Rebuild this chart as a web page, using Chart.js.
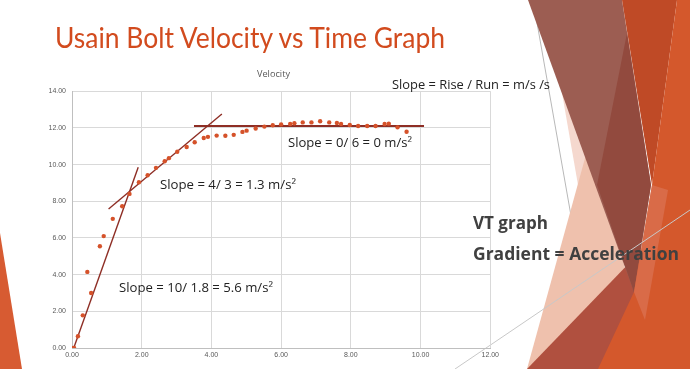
<!DOCTYPE html>
<html>
<head>
<meta charset="utf-8">
<script src="https://cdn.jsdelivr.net/npm/chart.js@4.4.1/dist/chart.umd.min.js"></script>
<style>
  html, body { margin: 0; padding: 0; background: #fff; }
  #slide { position: relative; width: 690px; height: 369px; overflow: hidden; background: #fff; }
  #deco, #labels { position: absolute; left: 0; top: 0; }
  #velocityChart { position: absolute; left: 40px; top: 81px; }
</style>
</head>
<body>
<div id="slide">
  <svg id="deco" width="690" height="369">
    <!-- left edge triangle -->
    <polygon points="0,233 22,369 0,369" fill="#D75B32"/>
    <!-- thin theme lines -->
    <line x1="533" y1="0" x2="598" y2="369" stroke="#b8b8b8" stroke-width="1"/>
    <!-- right side facets -->
    <polygon points="562,93 578,185 600,185 585,110" fill="#F5D8CE"/>
    <polygon points="527,369 590,140 600,160 630,290 600,369" fill="#EFC1AD"/>
    <polygon points="527,369 690,200 690,369" fill="#B0503F"/>
    <polygon points="528,0 622,0 651,185 634,292" fill="#9C5D52"/>
    <polygon points="627,33 651,185 634,292 597,185" fill="#924A3E"/>
    <polygon points="622,0 677,0 652,185" fill="#BF4A26"/>
    <polygon points="677,0 690,0 690,369 598,369 634,292 652,185" fill="#D4582C"/>
    <polygon points="652,185 634,292 645,320 668,190" fill="#D97050" opacity="0.8"/>
    <line x1="455" y1="369" x2="690" y2="210" stroke="#c8c8c8" stroke-width="1"/>
  </svg>
  <canvas id="velocityChart" width="462" height="285"></canvas>
  <svg id="labels" width="690" height="369">
    <text x="55" y="48" textLength="390" lengthAdjust="spacingAndGlyphs" font-family="Lato, 'Open Sans', sans-serif" font-size="28" fill="#D24B1E">Usain Bolt Velocity vs Time Graph</text>
    <text x="257" y="77" textLength="33" lengthAdjust="spacingAndGlyphs" font-family="'Open Sans', sans-serif" font-size="9" fill="#595959">Velocity</text>
    <text x="392" y="89" textLength="158" lengthAdjust="spacingAndGlyphs" font-family="'Open Sans', sans-serif" font-size="12" fill="#222">Slope = Rise / Run = m/s /s</text>
    <text x="288" y="147" textLength="124" lengthAdjust="spacingAndGlyphs" font-family="'Open Sans', sans-serif" font-size="12" fill="#222">Slope = 0/ 6 = 0 m/s²</text>
    <text x="160" y="189" textLength="136" lengthAdjust="spacingAndGlyphs" font-family="'Open Sans', sans-serif" font-size="12" fill="#222">Slope = 4/ 3 = 1.3 m/s²</text>
    <text x="119" y="292" textLength="154" lengthAdjust="spacingAndGlyphs" font-family="'Open Sans', sans-serif" font-size="12" fill="#222">Slope = 10/ 1.8 = 5.6 m/s²</text>
    <text x="473" y="229" textLength="75" lengthAdjust="spacingAndGlyphs" font-family="'Open Sans', sans-serif" font-weight="bold" font-size="18" fill="#404040">VT graph</text>
    <text x="473" y="260" textLength="206" lengthAdjust="spacingAndGlyphs" font-family="'Open Sans', sans-serif" font-weight="bold" font-size="18" fill="#404040">Gradient = Acceleration</text>
  </svg>
</div>
<script>
// measured run: time (s) and velocity (m/s)
const times = [0.00, 0.06, 0.17, 0.31, 0.44, 0.55, 0.80, 0.91, 1.17, 1.44, 1.65, 1.92, 2.17, 2.41, 2.66, 2.78,
    3.02, 3.29, 3.52, 3.78, 3.90, 4.15, 4.40, 4.64, 4.89, 5.01, 5.27, 5.52, 5.76, 6.00, 6.26, 6.38,
    6.62, 6.87, 7.12, 7.38, 7.60, 7.72, 7.97, 8.21, 8.47, 8.71, 8.97, 9.09, 9.34, 9.60];
const velocities = [0.00, 0.00, 0.64, 1.78, 4.15, 3.00, 5.55, 6.10, 7.04, 7.73, 8.40, 9.04, 9.42, 9.82, 10.18, 10.35,
    10.70, 10.96, 11.22, 11.45, 11.51, 11.58, 11.57, 11.62, 11.78, 11.85, 11.97, 12.07, 12.14, 12.19, 12.21, 12.25,
    12.30, 12.30, 12.36, 12.30, 12.27, 12.21, 12.16, 12.10, 12.10, 12.10, 12.21, 12.23, 12.03, 11.79];

// hand drawn tangent lines (end points)
const tangentStartX = [0.05, 1.90];
const tangentStartY = [0.00, 9.85];
const tangentMidX = [1.05, 4.30];
const tangentMidY = [7.58, 12.76];
const tangentFlatX = [3.50, 10.10];
const tangentFlatY = [12.10, 12.10];

const xTicks = [0, 2, 4, 6, 8, 10, 12];
const yTicks = [0, 2, 4, 6, 8, 10, 12, 14];

function toPoints(xs, ys) {
    return xs.map((x, i) => ({ x: x, y: ys[i] }));
}

function lineSet(xs, ys, width) {
    return {
        type: 'line',
        data: toPoints(xs, ys),
        borderColor: '#8E2E25',
        borderWidth: width,
        pointRadius: 0,
        showLine: true,
        fill: false
    };
}

const ctx = document.getElementById('velocityChart').getContext('2d');
new Chart(ctx, {
    type: 'scatter',
    data: {
        datasets: [
            {
                label: 'Velocity',
                data: toPoints(times, velocities),
                backgroundColor: '#D5522A',
                borderWidth: 0,
                pointRadius: 2.2
            },
            lineSet(tangentStartX, tangentStartY, 1.4),
            lineSet(tangentMidX, tangentMidY, 1.4),
            lineSet(tangentFlatX, tangentFlatY, 2)
        ]
    },
    options: {
        responsive: false,
        animation: false,
        devicePixelRatio: 1,
        layout: { padding: { top: 6, right: 10, left: 0, bottom: 0 } },
        plugins: {
            legend: { display: false },
            tooltip: { enabled: false }
        },
        scales: {
            x: {
                type: 'linear',
                min: 0,
                max: 12,
                afterBuildTicks: axis => { axis.ticks = xTicks.map(v => ({ value: v })); },
                afterFit: axis => { axis.height = 18; },
                ticks: {
                    padding: 3,
                    color: '#595959',
                    font: { family: 'Liberation Sans', size: 7 },
                    callback: v => v.toFixed(2),
                    maxRotation: 0
                },
                grid: { color: '#d9d9d9', drawTicks: false },
                border: { color: '#bfbfbf' }
            },
            y: {
                type: 'linear',
                min: 0,
                max: 14,
                afterBuildTicks: axis => { axis.ticks = yTicks.map(v => ({ value: v })); },
                afterFit: axis => { axis.width = 32; },
                ticks: {
                    padding: 6,
                    color: '#595959',
                    font: { family: 'Liberation Sans', size: 7 },
                    callback: v => v.toFixed(2)
                },
                grid: { color: '#d9d9d9', drawTicks: false },
                border: { color: '#bfbfbf' }
            }
        }
    }
});
</script>
</body>
</html>
